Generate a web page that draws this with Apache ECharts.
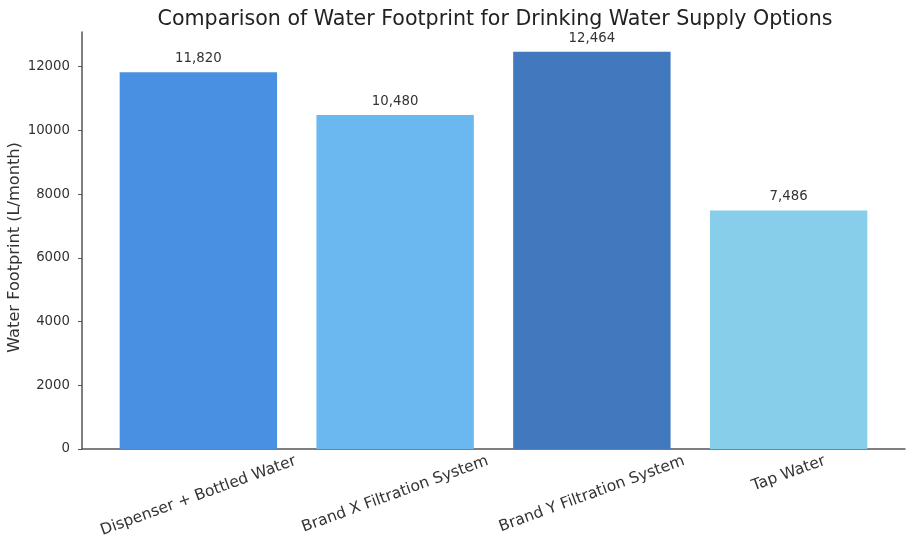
<!DOCTYPE html>
<html>
<head>
<meta charset="utf-8">
<title>Water Footprint</title>
<script src="https://cdn.jsdelivr.net/npm/echarts@6/dist/echarts.min.js"></script>
<style>
  html, body { margin: 0; padding: 0; background: #fff; }
  #chart { width: 909px; height: 540px; }
</style>
</head>
<body>
<div id="chart"></div>
<script>
const categories = ['Dispenser + Bottled Water', 'Brand X Filtration System', 'Brand Y Filtration System', 'Tap Water'];
const footprint = [11820, 10480, 12464, 7486];
const barColors = ['#4a90e2', '#6bb8f0', '#4178be', '#87ceeb'];
const yTicks = [0, 2000, 4000, 6000, 8000, 10000, 12000];
const yMax = 13087;

const FONT = 'DejaVu Sans';
const TICK_SIZE = 13.3;
const CAT_SIZE = 15.5;
const CAT_LINE = 18;
const ROT = 20;

// matplotlib centres rotated labels under the tick with the box top fixed,
// so push long labels further down; padding rotates with the text
const measureCtx = document.createElement('canvas').getContext('2d');
measureCtx.font = CAT_SIZE + 'px ' + FONT;
const rad = ROT * Math.PI / 180;
const xCategories = categories.map(function (name) {
    const w = measureCtx.measureText(name).width;
    const drop = 7.5 + w * Math.sin(rad) / 2;
    const s = drop * Math.cos(rad);
    return {
        value: name,
        textStyle: {
            align: 'center',
            verticalAlign: 'top',
            lineHeight: CAT_LINE,
            padding: [Math.max(0, s - CAT_LINE / 2), 2 * s * Math.tan(rad), 0, 0]
        }
    };
});

const chart = echarts.init(document.getElementById('chart'));

chart.setOption({
    backgroundColor: '#fff',
    animation: false,
    textStyle: { fontFamily: FONT },
    title: {
        text: 'Comparison of Water Footprint for Drinking Water Supply Options',
        left: 490,
        textAlign: 'center',
        top: 4,
        textStyle: { fontFamily: FONT, fontSize: 20.6, fontWeight: 'normal', color: '#222' }
    },
    grid: [
        { left: 82, right: 4, top: 32, bottom: 91, outerBoundsMode: 'none' },
        { left: 100, right: 22, top: 32, bottom: 91, outerBoundsMode: 'none' }
    ],
    xAxis: [
        {
            type: 'value', gridIndex: 0, min: 0, max: 1,
            axisLine: { show: true, lineStyle: { color: '#555', width: 1.5 } },
            axisTick: { show: false },
            axisLabel: { show: false },
            splitLine: { show: false }
        },
        {
            type: 'category', gridIndex: 1,
            data: xCategories,
            axisLine: { show: false },
            axisTick: { show: true, inside: true, alignWithLabel: true, length: 4, lineStyle: { color: '#333' } },
            axisLabel: {
                rotate: ROT,
                align: 'center',
                verticalAlign: 'top',
                margin: 4,
                interval: 0,
                fontFamily: FONT,
                fontSize: CAT_SIZE,
                color: '#333'
            }
        }
    ],
    yAxis: [
        {
            type: 'value', gridIndex: 0, min: 0, max: yMax,
            name: 'Water Footprint (L/month)',
            nameLocation: 'middle',
            nameGap: 59,
            nameMoveOverlap: false,
            nameTextStyle: { fontFamily: FONT, fontSize: 16.2, color: '#333', padding: [0, 14, 0, 0] },
            axisLine: { show: true, lineStyle: { color: '#555', width: 1.5 } },
            axisTick: { show: true, length: 4, customValues: yTicks, lineStyle: { color: '#555' } },
            axisLabel: {
                customValues: yTicks,
                margin: 12,
                fontFamily: FONT,
                fontSize: TICK_SIZE,
                color: '#333',
                formatter: function (v) { return String(v); }
            },
            splitLine: { show: false }
        },
        {
            type: 'value', gridIndex: 1, min: 0, max: yMax,
            show: false
        }
    ],
    series: [
        {
            type: 'bar',
            xAxisIndex: 1,
            yAxisIndex: 1,
            barWidth: '80%',
            data: footprint.map(function (v, i) {
                return { value: v, itemStyle: { color: barColors[i] } };
            }),
            label: {
                show: true,
                position: 'top',
                distance: 7,
                fontFamily: FONT,
                fontSize: TICK_SIZE,
                color: '#333',
                formatter: function (p) { return p.value.toLocaleString('en-US'); }
            }
        }
    ]
});
</script>
</body>
</html>
